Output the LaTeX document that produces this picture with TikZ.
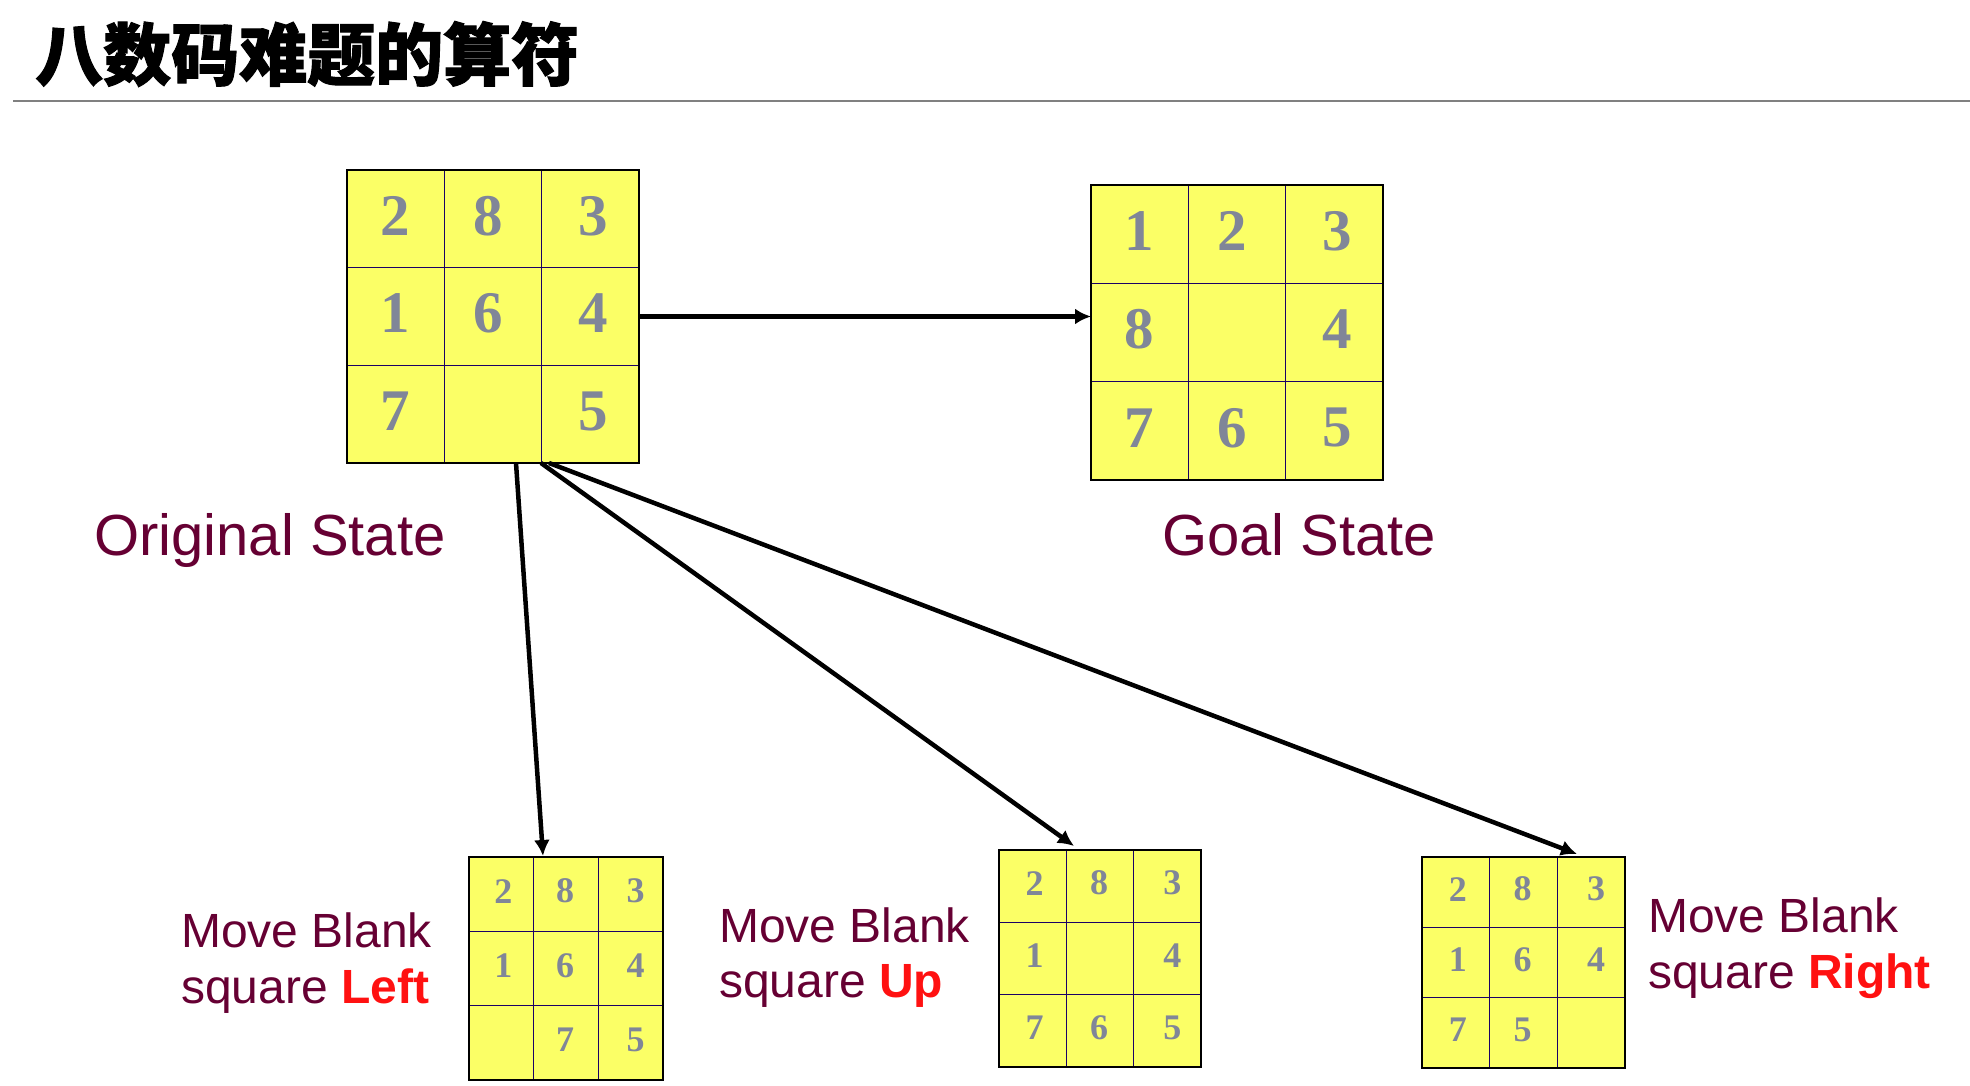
\documentclass[tikz,border=0pt]{standalone}
\usepackage{fontspec}
\setmainfont{Liberation Sans}
\newfontfamily\digitfont{Liberation Serif}
\newfontfamily\cjk{Noto Sans CJK SC}[BoldFeatures={FakeBold=1.5}]
\usetikzlibrary{calc,arrows.meta}
\definecolor{tilefill}{RGB}{251,255,102}
\definecolor{gridline}{RGB}{26,0,102}
\definecolor{digitgray}{RGB}{128,134,152}
\definecolor{labelcol}{RGB}{102,0,51}
\definecolor{movered}{RGB}{255,17,17}
\definecolor{rulegray}{RGB}{128,128,128}
\tikzset{
  board/.style={fill=tilefill, draw=none, inner sep=0pt, outer sep=0pt, rectangle},
  innerline/.style={draw=gridline, line width=1.3pt},
  outerline/.style={draw=black, line width=2.6pt},
  digit/.style={text=digitgray, inner sep=0pt},
  label/.style={text=labelcol, inner sep=0pt, anchor=base west},
  movearrow/.style={draw=black, line width=4.5pt, -{Latex[length=16pt,width=16pt]}},
}
% #1 name, #2 left, #3 top, #4 width, #5 height, #6 font size, #7 lift, #8 digits, #9 column offsets
\newcommand{\puzzlegrid}[9]{%
  \node[board, minimum width=#4pt, minimum height=#5pt, anchor=north west] (#1) at (#2,#3) {};
  \foreach \f in {1,2}{
    \draw[innerline] ($(#1.north west)!\f/3!(#1.north east)$) -- ($(#1.south west)!\f/3!(#1.south east)$);
    \draw[innerline] ($(#1.north west)!\f/3!(#1.south west)$) -- ($(#1.north east)!\f/3!(#1.south east)$);
  }
  \draw[outerline] (#1.north west) rectangle (#1.south east);
  \foreach \d [count=\k from 0] in {#8}{
    \pgfmathtruncatemacro{\prow}{int(\k/3)}
    \pgfmathtruncatemacro{\pcol}{mod(\k,3)}
    \pgfmathsetmacro{\pdx}{{#9}[\pcol]}
    \pgfmathsetmacro{\px}{#2+(\pcol+0.5)*#4/3+\pdx}
    \pgfmathsetmacro{\py}{#3+(\prow+0.5)*#5/3-#7}
    \node[digit, font=\digitfont\bfseries\fontsize{#6}{#6}\selectfont] (#1-\k) at (\px,\py) {\d};
  }
}
\begin{document}
\begin{tikzpicture}[x=1pt, y=-1pt]
\useasboundingbox (0,0) rectangle (1970,1086);
% title
\node[anchor=base west, inner sep=0pt, font=\cjk\bfseries\fontsize{68}{68}\selectfont] (title) at (35,80) {八数码难题的算符};
\coordinate (ruleL) at (13,101);
\coordinate (ruleR) at (1970,101);
\draw[rulegray, line width=1.5pt] (ruleL) -- (ruleR);
% grids
\puzzlegrid{orig}{347}{170}{292}{293}{59}{3}{2,8,3,1,6,4,7,{},5}{0,-5,3}
\puzzlegrid{goal}{1091}{185}{292}{295}{59}{3}{1,2,3,8,{},4,7,6,5}{0,-5,3}
\puzzlegrid{left}{469}{857}{194}{223}{36}{3}{2,8,3,1,6,4,{},7,5}{2,-1,5}
\puzzlegrid{up}{999}{850}{202}{217}{36}{3}{2,8,3,1,{},4,7,6,5}{2,-1,5}
\puzzlegrid{right}{1422}{857}{203}{211}{36}{3}{2,8,3,1,6,4,7,5,{}}{2,-1,5}
% labels
\node[label, font=\fontsize{58}{58}\selectfont] (origlbl) at (94,555) {Original State};
\node[label, font=\fontsize{58}{58}\selectfont] (goallbl) at (1162,555) {Goal State};
\node[label, font=\fontsize{48}{48}\selectfont] (leftA) at (181,947) {Move Blank};
\node[label, font=\fontsize{48}{48}\selectfont] (leftB) at (181,1003) {square \textcolor{movered}{\bfseries Left}};
\node[label, font=\fontsize{48}{48}\selectfont] (upA) at (719,942) {Move Blank};
\node[label, font=\fontsize{48}{48}\selectfont] (upB) at (719,997) {square \textcolor{movered}{\bfseries Up}};
\node[label, font=\fontsize{48}{48}\selectfont] (rightA) at (1648,932) {Move Blank};
\node[label, font=\fontsize{48}{48}\selectfont] (rightB) at (1648,988) {square \textcolor{movered}{\bfseries Right}};
% arrows
\draw[movearrow] (orig.east) -- (orig.east -| goal.west);
\draw[movearrow] ($(orig.south west)+(169,0)$) -- ($(left.north west)+(74,-1)$);
\draw[movearrow] ($(orig.south west)+(194,0)$) -- ($(up.north west)+(75,-4)$);
\draw[movearrow] ($(orig.south west)+(202,0)$) -- ($(right.north west)+(155,-3)$);
\end{tikzpicture}
\end{document}
